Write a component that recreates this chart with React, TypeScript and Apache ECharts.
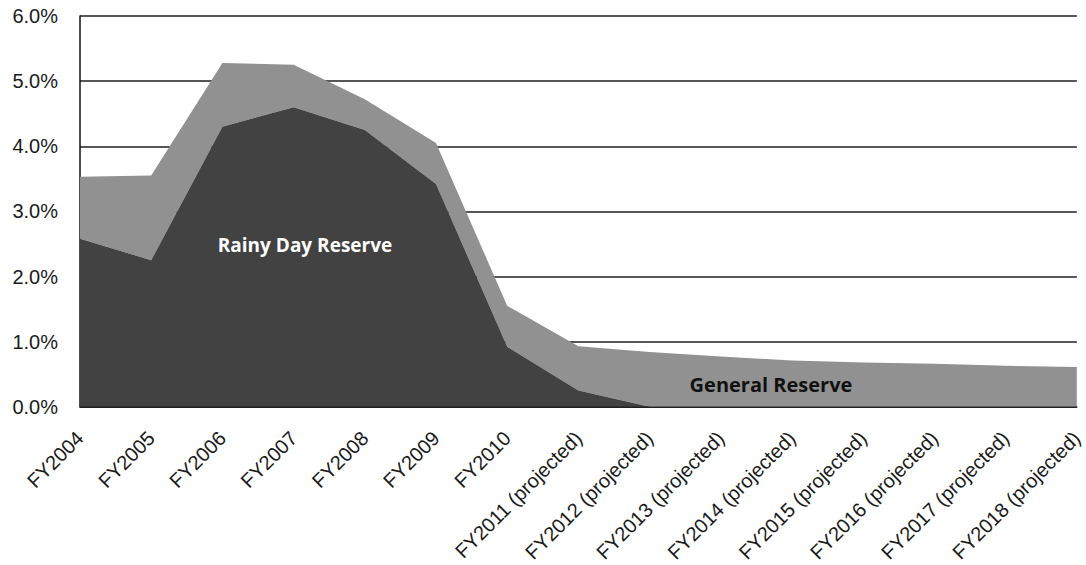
import React, { useEffect, useRef } from "react";
import * as echarts from "echarts";

const categories = [
  "FY2004",
  "FY2005",
  "FY2006",
  "FY2007",
  "FY2008",
  "FY2009",
  "FY2010",
  "FY2011 (projected)",
  "FY2012 (projected)",
  "FY2013 (projected)",
  "FY2014 (projected)",
  "FY2015 (projected)",
  "FY2016 (projected)",
  "FY2017 (projected)",
  "FY2018 (projected)",
];

// percent of budget
const rainyDayReserve = [2.58, 2.25, 4.3, 4.6, 4.25, 3.42, 0.92, 0.25, 0, 0, 0, 0, 0, 0, 0];
const generalReserve = [0.95, 1.3, 0.98, 0.65, 0.47, 0.63, 0.63, 0.68, 0.84, 0.77, 0.71, 0.68, 0.66, 0.63, 0.61];

const yTicks = [0, 1, 2, 3, 4, 5, 6];

export default function App() {
  const ref = useRef<HTMLDivElement>(null);

  useEffect(() => {
    if (!ref.current) return;
    const chart = echarts.init(ref.current, null, { renderer: "svg" });
    const axisFont = "'Liberation Sans', Arial, sans-serif";
    chart.setOption({
      animation: false,
      backgroundColor: "#ffffff",
      grid: { left: 80, right: 6, top: 16, bottom: 157, containLabel: false },
      xAxis: {
        type: "category",
        data: categories,
        boundaryGap: false,
        axisLine: { show: true, lineStyle: { color: "#111", width: 1.5 } },
        axisTick: { show: false },
        axisLabel: {
          interval: 0,
          rotate: 45,
          margin: 28,
          fontSize: 20,
          fontFamily: axisFont,
          color: "#1a1a1a",
        },
        splitLine: { show: false },
      },
      yAxis: {
        type: "value",
        min: yTicks[0],
        max: yTicks[yTicks.length - 1],
        interval: 1,
        axisLine: { show: true, lineStyle: { color: "#111", width: 1.5 } },
        axisTick: { show: false },
        axisLabel: {
          margin: 22,
          fontSize: 20,
          fontFamily: axisFont,
          color: "#1a1a1a",
          padding: [12, 0, 0, 0],
          formatter: (v: number) => `${v.toFixed(1)}%`,
        },
        splitLine: { show: true, lineStyle: { color: "#1e1e1e", width: 1.5 } },
      },
      series: [
        {
          name: "Rainy Day Reserve",
          type: "line",
          stack: "reserve",
          data: rainyDayReserve,
          symbol: "none",
          lineStyle: { width: 0 },
          areaStyle: { color: "#424242", opacity: 1 },
          z: 3,
        },
        {
          name: "General Reserve",
          type: "line",
          stack: "reserve",
          data: generalReserve,
          symbol: "none",
          lineStyle: { width: 0 },
          areaStyle: { color: "#919191", opacity: 1 },
          z: 2,
        },
      ],
      graphic: [
        {
          type: "text",
          x: 305,
          y: 245,
          style: {
            text: "Rainy Day Reserve",
            fill: "#ffffff",
            font: "bold 19px 'Open Sans', sans-serif",
            textAlign: "center",
            textVerticalAlign: "middle",
          },
          z: 10,
        },
        {
          type: "text",
          x: 771,
          y: 384,
          style: {
            text: "General Reserve",
            fill: "#111111",
            font: "bold 20px 'Open Sans', sans-serif",
            textAlign: "center",
            textVerticalAlign: "middle",
          },
          z: 10,
        },
      ],
    });
    return () => chart.dispose();
  }, []);

  return (
    <div
      ref={ref}
      style={{ position: "fixed", left: 0, top: 0, width: 1086, height: 565 }}
    />
  );
}
